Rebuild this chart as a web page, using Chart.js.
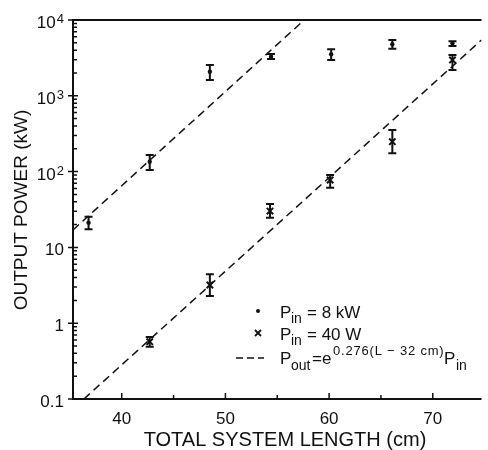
<!DOCTYPE html>
<html>
<head>
<meta charset="utf-8">
<script src="https://cdn.jsdelivr.net/npm/chart.js@4.4.1/dist/chart.umd.min.js"></script>
<style>
    html, body { margin: 0; padding: 0; background: #fff; }
    #wrap { width: 488px; height: 450px; }
</style>
</head>
<body>
<div id="wrap"><canvas id="powerChart" width="488" height="450"></canvas></div>
<script>
// Total system length (cm) and output power (kW)
const highLengths = [36.8, 42.7, 48.5, 54.4, 60.2, 66.1, 71.9];
const highPower = [21.2, 135, 2080, 3280, 3530, 4780, 4930];   // P_in = 8 kW
const highLow = [17.3, 105, 1620, 3050, 2970, 4180, 4540];
const highHigh = [25.4, 166, 2550, 3560, 4100, 5450, 5240];

const lowLengths = [42.7, 48.5, 54.3, 60.1, 66.1, 71.9];
const lowPower = [0.57, 3.19, 30.2, 77.5, 248, 2970];           // P_in = 40 W
const lowLow = [0.49, 2.29, 24.7, 61.4, 174, 2190];
const lowHigh = [0.66, 4.41, 37.4, 90, 354, 3450];

// Ends of the dashed lines P_out = e^{0.276(L-32 cm)} P_in
const fitHighL = [35.3, 57.6];
const fitHighP = [17, 10000];
const fitLowL = [36.35, 74.7];
const fitLowP = [0.1, 5450];

// Axis ticks
const xTicks = [40, 50, 60, 70];
const xMinorTicks = [45, 55, 65];
const yTicks = [0.1, 1, 10, 100, 1000, 10000];
const yTickBase = ['0.1', '1', '10', '10', '10', '10'];
const yTickExp = ['', '', '', '2', '3', '4'];

const FONT = '"Liberation Sans", Arial, Helvetica, sans-serif';
const INK = '#111';

const toPoints = (xs, ys) => xs.map((v, i) => ({ x: v, y: ys[i] }));

// vertical error bars with caps
const errorBars = {
    id: 'errorBars',
    afterDatasetsDraw(chart) {
        const { ctx, scales: { x, y } } = chart;
        ctx.save();
        ctx.strokeStyle = INK;
        ctx.lineWidth = 2;
        const draw = (xs, lo, hi) => {
            xs.forEach((v, i) => {
                const px = x.getPixelForValue(v);
                const top = y.getPixelForValue(hi[i]);
                const bot = y.getPixelForValue(lo[i]);
                ctx.beginPath();
                ctx.moveTo(px, top); ctx.lineTo(px, bot);
                ctx.moveTo(px - 4, top); ctx.lineTo(px + 4, top);
                ctx.moveTo(px - 4, bot); ctx.lineTo(px + 4, bot);
                ctx.stroke();
            });
        };
        draw(highLengths, highLow, highHigh);
        draw(lowLengths, lowLow, lowHigh);
        ctx.restore();
    }
};

// frame, inward ticks, labels, titles and the legend
const decorations = {
    id: 'decorations',
    afterDraw(chart) {
        const { ctx, chartArea: a, scales: { x, y } } = chart;
        ctx.save();
        ctx.strokeStyle = INK;
        ctx.fillStyle = INK;

        // frame (no right border, plot runs off the page)
        ctx.lineWidth = 2;
        ctx.beginPath();
        ctx.moveTo(a.right, a.top); ctx.lineTo(a.left, a.top);
        ctx.lineTo(a.left, a.bottom); ctx.lineTo(a.right, a.bottom);
        ctx.stroke();

        // y ticks
        ctx.lineWidth = 1.5;
        ctx.beginPath();
        yTicks.forEach(v => {
            const py = y.getPixelForValue(v);
            ctx.moveTo(a.left - 5, py); ctx.lineTo(a.left + 5, py);
        });
        for (let d = 0.1; d < 10000; d *= 10) {
            for (let m = 2; m <= 9; m++) {
                const py = y.getPixelForValue(d * m);
                ctx.moveTo(a.left, py); ctx.lineTo(a.left + 4, py);
            }
        }
        // x ticks
        xTicks.forEach(v => {
            const px = x.getPixelForValue(v);
            ctx.moveTo(px, a.bottom); ctx.lineTo(px, a.bottom - 6);
        });
        xMinorTicks.forEach(v => {
            const px = x.getPixelForValue(v);
            ctx.moveTo(px, a.bottom); ctx.lineTo(px, a.bottom - 4);
        });
        ctx.stroke();

        // y tick labels, right aligned
        ctx.textBaseline = 'alphabetic';
        ctx.textAlign = 'left';
        yTicks.forEach((v, i) => {
            const py = y.getPixelForValue(v);
            ctx.font = `17px ${FONT}`;
            const bw = ctx.measureText(yTickBase[i]).width;
            ctx.font = `13px ${FONT}`;
            const ew = yTickExp[i] ? ctx.measureText(yTickExp[i]).width + 1 : 0;
            const right = 64;
            ctx.font = `17px ${FONT}`;
            ctx.fillText(yTickBase[i], right - ew - bw, py + 8);
            if (yTickExp[i]) {
                ctx.font = `13px ${FONT}`;
                ctx.fillText(yTickExp[i], right - ew + 1, py + 3);
            }
        });

        // x tick labels
        ctx.font = `17px ${FONT}`;
        ctx.textAlign = 'center';
        xTicks.forEach(v => {
            ctx.fillText(String(v), x.getPixelForValue(v), 424);
        });

        // axis titles
        ctx.font = `20px ${FONT}`;
        ctx.fillText('TOTAL SYSTEM LENGTH (cm)', 285, 446);
        ctx.save();
        ctx.translate(27, 210);
        ctx.rotate(-Math.PI / 2);
        ctx.font = `19px ${FONT}`;
        ctx.fillText('OUTPUT POWER (kW)', 0, 0);
        ctx.restore();

        // legend
        ctx.textAlign = 'left';
        ctx.beginPath();
        ctx.arc(258, 311, 2, 0, Math.PI * 2);
        ctx.fill();
        ctx.lineWidth = 1.8;
        ctx.beginPath();
        ctx.moveTo(255, 330); ctx.lineTo(261, 336);
        ctx.moveTo(261, 330); ctx.lineTo(255, 336);
        ctx.stroke();
        ctx.lineWidth = 1.5;
        ctx.setLineDash([7, 4]);
        ctx.beginPath();
        ctx.moveTo(236, 358); ctx.lineTo(264, 358);
        ctx.stroke();
        ctx.setLineDash([]);

        const sub = (t, px, py) => { ctx.font = `14px ${FONT}`; ctx.fillText(t, px, py); };
        const main = (t, px, py) => { ctx.font = `17px ${FONT}`; ctx.fillText(t, px, py); };

        main('P', 280, 318); sub('in', 291, 323); main('= 8 kW', 307, 318);
        main('P', 280, 340); sub('in', 291, 345); main('= 40 W', 307, 340);
        main('P', 280, 364); sub('out', 291, 370);
        main('=e', 312, 364);
        ctx.font = `13px ${FONT}`;
        ctx.letterSpacing = '0.8px';
        ctx.fillText('0.276(L \u2212 32 cm)', 333, 355);
        ctx.letterSpacing = '0px';
        main('P', 444, 364); sub('in', 456, 370);

        ctx.restore();
    }
};

const ctx = document.getElementById('powerChart').getContext('2d');

new Chart(ctx, {
    type: 'scatter',
    data: {
        datasets: [
            {
                label: 'P_in = 8 kW',
                data: toPoints(highLengths, highPower),
                pointStyle: 'circle',
                pointRadius: 2.2,
                backgroundColor: INK,
                borderWidth: 0
            },
            {
                label: 'P_in = 40 W',
                data: toPoints(lowLengths, lowPower),
                pointStyle: 'crossRot',
                pointRadius: 4.5,
                borderColor: INK,
                borderWidth: 2
            },
            {
                label: 'fit 8 kW',
                data: toPoints(fitHighL, fitHighP),
                showLine: true,
                borderColor: INK,
                borderWidth: 1.5,
                borderDash: [8, 5],
                pointRadius: 0
            },
            {
                label: 'fit 40 W',
                data: toPoints(fitLowL, fitLowP),
                showLine: true,
                borderColor: INK,
                borderWidth: 1.5,
                borderDash: [8, 5],
                pointRadius: 0
            }
        ]
    },
    options: {
        responsive: false,
        animation: false,
        devicePixelRatio: 1,
        layout: { padding: { top: 20, right: 0, bottom: 0, left: 0 } },
        plugins: {
            legend: { display: false },
            tooltip: { enabled: false }
        },
        scales: {
            x: {
                type: 'linear',
                min: 35.3,
                max: 74.7,
                grid: { display: false },
                border: { display: false },
                ticks: { display: false },
                afterFit: s => { s.height = 51; }
            },
            y: {
                type: 'logarithmic',
                min: 0.1,
                max: 10000,
                grid: { display: false },
                border: { display: false },
                ticks: { display: false },
                afterFit: s => { s.width = 73; }
            }
        }
    },
    plugins: [errorBars, decorations]
});
</script>
</body>
</html>
